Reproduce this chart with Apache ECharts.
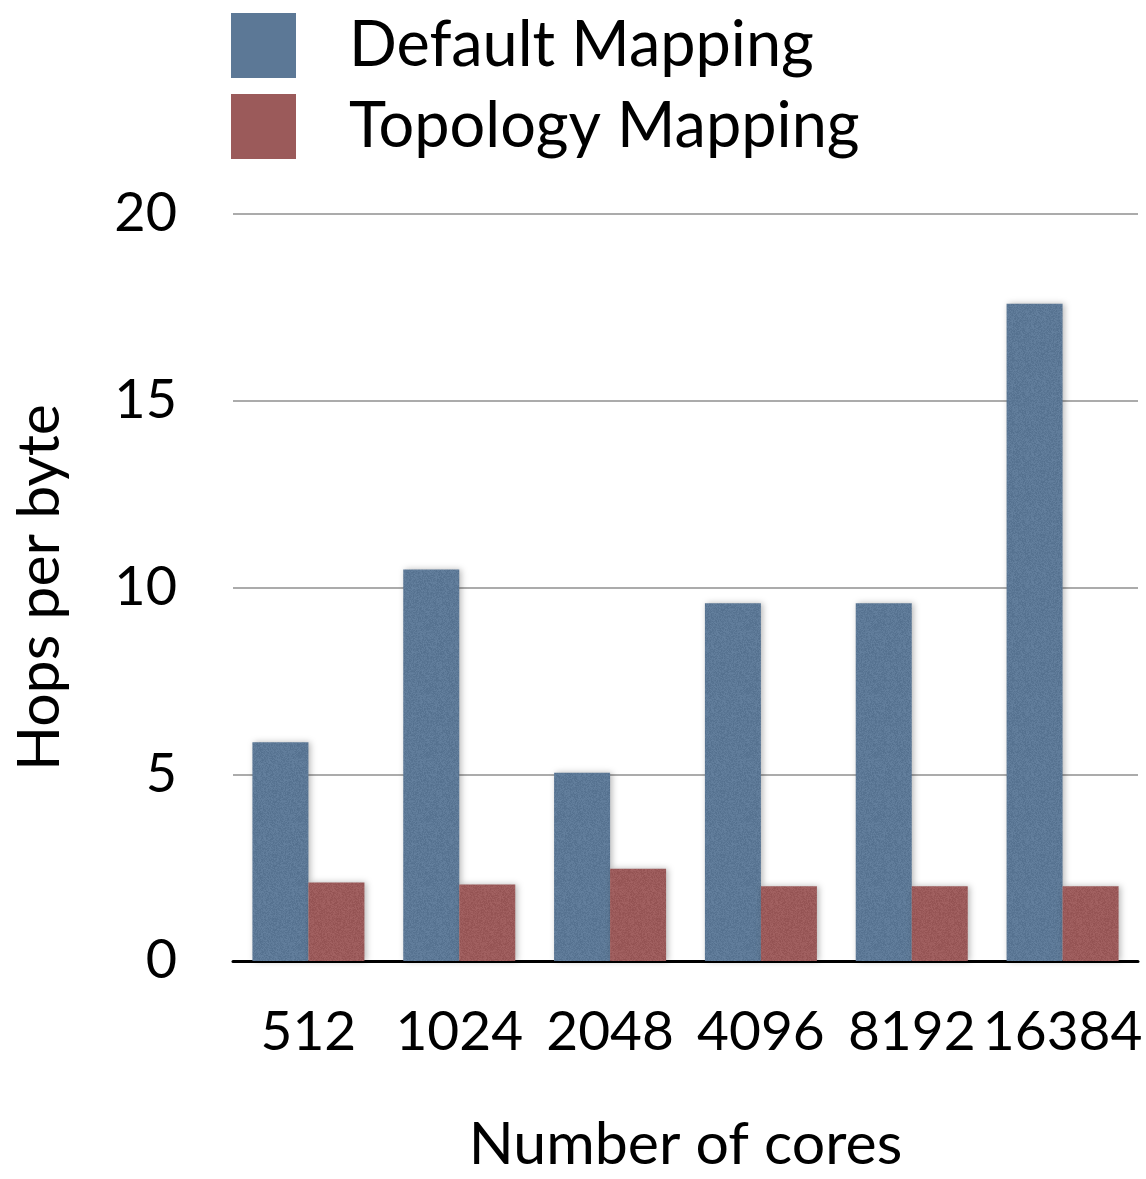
<!DOCTYPE html>
<html>
<head>
<meta charset="utf-8">
<style>
  html, body { margin: 0; padding: 0; background: #ffffff; overflow: hidden; }
  #chart { width: 1146px; height: 1179px; }
</style>
<script src="https://cdn.jsdelivr.net/npm/echarts@6/dist/echarts.min.js"></script>
</head>
<body>
<div id="chart"></div>
<script>
// Hops per byte for each core count, default vs topology-aware rank mapping
const cores = ['512', '1024', '2048', '4096', '8192', '16384'];
const defaultMapping = [5.86, 10.48, 5.04, 9.58, 9.58, 17.6];
const topologyMapping = [2.1, 2.05, 2.47, 2.0, 2.0, 2.0];
const yTicks = [0, 5, 10, 15, 20];

const FONT = 'Lato, "Open Sans", sans-serif';

// Grainy "paper" fill for the bars: a small tile with slight brightness jitter
function grainTile(r, g, b) {
  const size = 64;
  const c = document.createElement('canvas');
  c.width = size; c.height = size;
  const ctx = c.getContext('2d');
  const img = ctx.createImageData(size, size);
  let seed = 1234567;
  for (let i = 0; i < size * size; i++) {
    seed = (seed * 1103515245 + 12345) & 0x7fffffff;
    const d = ((seed >> 8) % 17) - 8;
    img.data[i * 4] = Math.max(0, Math.min(255, r + d));
    img.data[i * 4 + 1] = Math.max(0, Math.min(255, g + d));
    img.data[i * 4 + 2] = Math.max(0, Math.min(255, b + d));
    img.data[i * 4 + 3] = 255;
  }
  ctx.putImageData(img, 0, 0);
  return c;
}

const chart = echarts.init(document.getElementById('chart'), null, { renderer: 'canvas' });

const barShadow = {
  shadowBlur: 6,
  shadowColor: 'rgba(0,0,0,0.28)',
  shadowOffsetX: 2,
  shadowOffsetY: 0
};

chart.setOption({
  backgroundColor: '#ffffff',
  animation: false,
  textStyle: { fontFamily: FONT, color: '#000' },
  legend: {
    orient: 'vertical',
    left: 231,
    top: 13,
    padding: 0,
    itemWidth: 65,
    itemHeight: 65,
    itemGap: 16,
    icon: 'rect',
    textStyle: { fontFamily: FONT, fontSize: 63, color: '#000', padding: [0, 0, 0, 48] },
    data: [
      { name: 'Default Mapping', itemStyle: { color: '#5c7896' } },
      { name: 'Topology Mapping', itemStyle: { color: '#9b5a5a' } }
    ]
  },
  grid: { left: 233, right: 8, top: 214, bottom: 210, containLabel: false },
  xAxis: {
    type: 'category',
    data: cores,
    name: 'Number of cores',
    nameLocation: 'middle',
    nameGap: 154,
    nameTextStyle: { fontFamily: FONT, fontSize: 59, color: '#000' },
    axisLine: { lineStyle: { color: '#000', width: 3 } },
    axisTick: { show: false },
    axisLabel: { fontFamily: FONT, fontSize: 55, color: '#000', margin: 44, interval: 0 }
  },
  yAxis: {
    type: 'value',
    min: yTicks[0],
    max: yTicks[yTicks.length - 1],
    interval: 5,
    name: 'Hops per byte',
    nameLocation: 'middle',
    nameGap: 164,
    nameTextStyle: { fontFamily: FONT, fontSize: 59, color: '#000' },
    axisLine: { show: false },
    axisTick: { show: false },
    axisLabel: { fontFamily: FONT, fontSize: 54, color: '#000', margin: 56 },
    splitLine: { lineStyle: { color: '#ababab', width: 2 } }
  },
  series: [
    {
      name: 'Default Mapping',
      type: 'bar',
      data: defaultMapping,
      barWidth: 56,
      barGap: '0%',
      itemStyle: Object.assign({ color: { image: grainTile(92, 120, 150), repeat: 'repeat' } }, barShadow)
    },
    {
      name: 'Topology Mapping',
      type: 'bar',
      data: topologyMapping,
      barWidth: 56,
      barGap: '0%',
      itemStyle: Object.assign({ color: { image: grainTile(155, 90, 90), repeat: 'repeat' } }, barShadow)
    }
  ]
});
</script>
</body>
</html>
